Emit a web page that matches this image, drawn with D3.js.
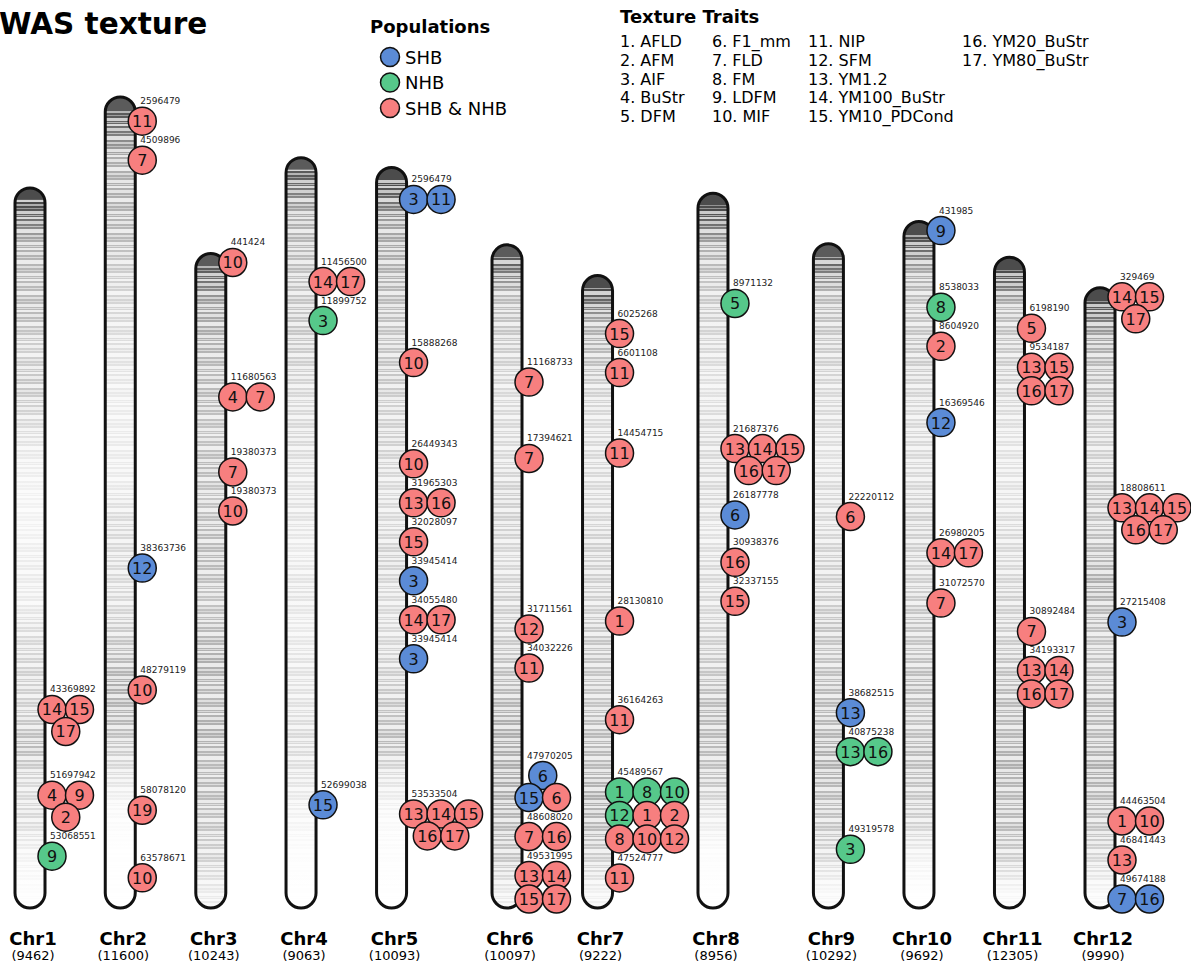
<!DOCTYPE html>
<html><head><meta charset="utf-8">
<script src="https://cdn.jsdelivr.net/npm/d3@7"></script>
<style>body{margin:0;background:#fff} svg{display:block;font-family:"DejaVu Sans",sans-serif}</style>
</head><body>
<svg id="c" width="1191" height="963"></svg>
<script>
// ---------------- DATA ----------------
const chromosomes = ["Chr1","Chr2","Chr3","Chr4","Chr5","Chr6","Chr7","Chr8","Chr9","Chr10","Chr11","Chr12"];
const chromLengths = [58640000,66040000,53300000,61100000,60300000,54000000,51500000,58200000,54100000,55900000,53000000,50500000];
const geneCounts = [9462,11600,10243,9063,10093,10097,9222,8956,10292,9692,12305,9990];

// gene density along each chromosome (top -> bottom), estimated
const densityChr1  = [0.85,0.5,0.45,0.45,0.35,0.4,0.3,0.2,0.15,0.15,0.2,0.2,0.3,0.35,0.35,0.45,0.3,0.3,0.15,0.05];
const densityChr2  = [0.8,0.5,0.5,0.45,0.35,0.3,0.25,0.2,0.2,0.2,0.3,0.3,0.3,0.4,0.5,0.45,0.3,0.1,0.03,0.02];
const densityChr3  = [0.8,0.55,0.5,0.45,0.45,0.4,0.45,0.4,0.45,0.45,0.4,0.45,0.5,0.45,0.5,0.45,0.45,0.4,0.35,0.2];
const densityChr4  = [0.8,0.5,0.45,0.4,0.4,0.35,0.3,0.3,0.25,0.25,0.2,0.25,0.2,0.25,0.25,0.3,0.25,0.15,0.05,0.02];
const densityChr5  = [0.85,0.55,0.5,0.45,0.4,0.4,0.35,0.35,0.3,0.3,0.35,0.3,0.3,0.35,0.4,0.45,0.25,0.1,0.05,0.02];
const densityChr6  = [0.8,0.45,0.4,0.35,0.3,0.3,0.3,0.35,0.35,0.3,0.35,0.35,0.4,0.45,0.5,0.5,0.5,0.45,0.4,0.2];
const densityChr7  = [0.85,0.5,0.45,0.35,0.3,0.3,0.3,0.3,0.35,0.35,0.35,0.4,0.4,0.4,0.45,0.45,0.5,0.45,0.35,0.15];
const densityChr8  = [0.85,0.5,0.4,0.35,0.3,0.25,0.3,0.3,0.3,0.25,0.3,0.3,0.35,0.4,0.45,0.45,0.4,0.2,0.05,0.02];
const densityChr9  = [0.8,0.45,0.4,0.35,0.3,0.3,0.25,0.3,0.3,0.35,0.35,0.4,0.4,0.45,0.45,0.5,0.45,0.4,0.3,0.1];
const densityChr10 = [0.85,0.5,0.4,0.4,0.35,0.3,0.3,0.3,0.35,0.35,0.35,0.4,0.4,0.45,0.4,0.45,0.4,0.35,0.15,0.03];
const densityChr11 = [0.85,0.45,0.4,0.35,0.3,0.25,0.25,0.25,0.3,0.3,0.35,0.35,0.4,0.45,0.45,0.5,0.45,0.45,0.35,0.1];
const densityChr12 = [0.85,0.55,0.45,0.4,0.35,0.35,0.4,0.4,0.45,0.5,0.45,0.4,0.4,0.45,0.45,0.5,0.45,0.4,0.3,0.1];
const chromDensity = [densityChr1,densityChr2,densityChr3,densityChr4,densityChr5,densityChr6,densityChr7,densityChr8,densityChr9,densityChr10,densityChr11,densityChr12];

// significant loci: chromosome, position (bp), traits (rows separated by "|"; S=SHB, N=NHB, B=SHB & NHB)
const markerChr = [1,1,1, 2,2,2,2,2,2, 3,3,3,3, 4,4,4, 5,5,5,5,5,5,5,5,5, 6,6,6,6,6,6,6, 7,7,7,7,7,7,7, 8,8,8,8,8, 9,9,9,9, 10,10,10,10,10,10, 11,11,11,11, 12,12,12,12,12,12];
const markerPos = [43369892,51697942,53068551,
  2596479,4509896,38363736,48279119,58078120,63578671,
  441424,11680563,19380373,19380373,
  11456500,11899752,52699038,
  2596479,15888268,26449343,31965303,32028097,33945414,34055480,33945414,53533504,
  11168733,17394621,31711561,34032226,47970205,48608020,49531995,
  6025268,6601108,14454715,28130810,36164263,45489567,47524777,
  8971132,21687376,26187778,30938376,32337155,
  22220112,38682515,40875238,49319578,
  431985,8538033,8604920,16369546,26980205,31072570,
  6198190,9534187,30892484,34193317,
  329469,18808611,27215408,44463504,46841443,49674188];
const markerTraits = ["14B,15B|17B","4B,9B|2B","9N",
  "11B","7B","12S","10B","19B","10B",
  "10B","4B,7B","7B","10B",
  "14B,17B","3N","15S",
  "3S,11S","10B","10B","13B,16B","15B","3S","14B,17B","3S","13B,14B,15B|16B,17B",
  "7B","7B","12B","11B","6S|15S,6B","7B,16B","13B,14B|15B,17B",
  "15B","11B","11B","1B","11B","1N,8N,10N|12N,1B,2B|8B,10B,12B","11B",
  "5N","13B,14B,15B|16B,17B","6S","16B","15B",
  "6B","13S","13N,16N","3N",
  "9S","8N","2B","12S","14B,17B","7B",
  "5B","13B,15B|16B,17B","7B","13B,14B|16B,17B",
  "14B,15B|17B","13B,14B,15B|16B,17B","3S","1B,10B","13B","7S,16S"];

const traitNames = ["AFLD","AFM","AIF","BuStr","DFM","F1_mm","FLD","FM","LDFM","MIF","NIP","SFM","YM1.2","YM100_BuStr","YM10_PDCond","YM20_BuStr","YM80_BuStr"];
const populations = ["SHB","NHB","SHB & NHB"];
const popCodes = ["S","N","B"];
const popColors = ["#5b8bd6","#56c88a","#f77f7f"];

// ---------------- LAYOUT ----------------
const W = 1191;
const chrTopMin = 97, chrBottom = 908, chrW = 30, R = 14, dx = 27.5, gap = 11;
const marginLeft = 15;
const color = d3.scaleOrdinal().domain(popCodes).range(popColors);
const yLen = d3.scaleLinear().domain([0, d3.max(chromLengths)]).range([0, chrBottom - chrTopMin]);
const greyRamp = d3.interpolateRgb("#ffffff", "#1a1a1a");
const grey = d => greyRamp(Math.pow(d, 1.5));

const svg = d3.select("#c");
const defs = svg.append("defs");

// stripe texture (light streaks over the density shading)
const stripe = defs.append("pattern").attr("id", "stripes").attr("patternUnits", "userSpaceOnUse")
  .attr("width", 40).attr("height", 31);
[[0,2,0.75],[4,3,0.65],[9,1,0.5],[12,4,0.75],[18,2,0.55],[22,1,0.4],[25,3,0.7],[29,1,0.5]].forEach(s =>
  stripe.append("rect").attr("x", 0).attr("y", s[0]).attr("width", 40).attr("height", s[1])
    .attr("fill", "#fff").attr("fill-opacity", s[2]));

svg.append("text").attr("x", -1).attr("y", 34).attr("font-size", 29.5)
  .attr("font-weight", "bold").attr("fill", "#000").text("WAS texture");

function dodge(groups, lo, hi) {
  let blocks = groups.map(g => ({items: [g]}));
  function layoutBlock(b) {
    let off = 0; b.offs = [];
    b.items.forEach(g => { b.offs.push(off + g.h / 2); off += g.h + gap; });
    b.height = off - gap;
    b.top = d3.mean(b.items, (g, k) => g.c - b.offs[k]);
    b.top = Math.max(lo, Math.min(hi - b.height, b.top));
  }
  blocks.forEach(layoutBlock);
  let changed = true;
  while (changed) {
    changed = false;
    for (let k = 1; k < blocks.length; k++) {
      const a = blocks[k - 1], b = blocks[k];
      if (b.top < a.top + a.height + gap - 1e-6) {
        a.items = a.items.concat(b.items);
        blocks.splice(k, 1); layoutBlock(a); changed = true; break;
      }
    }
  }
  blocks.forEach(b => b.items.forEach((g, k) => { g.yc = b.top + b.offs[k]; }));
}

const chrNodes = chromosomes.map((name, i) => {
  const len = chromLengths[i];
  const h = yLen(len);
  const top = chrBottom - h;
  const g = svg.append("g");

  const gid = "dens" + i;
  const grad = defs.append("linearGradient").attr("id", gid)
    .attr("x1", 0).attr("y1", 0).attr("x2", 0).attr("y2", 1);
  const dens = chromDensity[i];
  dens.forEach((d, k) => grad.append("stop")
    .attr("offset", (k + 0.5) / dens.length).attr("stop-color", grey(d)));

  const cid = "clip" + i;
  defs.append("clipPath").attr("id", cid).append("rect")
    .attr("x", 0).attr("y", top).attr("width", chrW).attr("height", h)
    .attr("rx", chrW / 2).attr("ry", chrW / 2);

  g.append("rect").attr("x", 0).attr("y", top).attr("width", chrW).attr("height", h)
    .attr("fill", `url(#${gid})`).attr("clip-path", `url(#${cid})`);
  g.append("rect").attr("x", 0).attr("y", top + 12).attr("width", chrW).attr("height", h - 12)
    .attr("fill", "url(#stripes)").attr("clip-path", `url(#${cid})`);
  g.append("rect").attr("x", 0).attr("y", top).attr("width", chrW).attr("height", h)
    .attr("rx", chrW / 2).attr("ry", chrW / 2)
    .attr("fill", "none").attr("stroke", "#111").attr("stroke-width", 3);

  const groups = [];
  markerChr.forEach((c, k) => {
    if (c !== i + 1) return;
    const rows = markerTraits[k].split("|").map(r => r.split(",").map(t => ({
      trait: t.slice(0, -1), pop: t.slice(-1)})));
    const aligned = rows.every(r => r.length === rows[0].length);
    const rowGap = aligned ? 23.5 : 22;
    const gh = (rows.length - 1) * rowGap + 2 * R;
    groups.push({pos: markerPos[k], rows, rowGap, h: gh, c: top + yLen(markerPos[k])});
  });
  dodge(groups, top - 5, chrBottom + 5);

  const x0 = chrW + 7;
  groups.forEach(gr => {
    const gTop = gr.yc - gr.h / 2;
    const widest = d3.max(gr.rows, r => r.length);
    let maxX = 0;
    gr.rows.forEach((row, ri) => {
      const start = (widest - row.length) * dx / 2;
      row.forEach((it, j) => {
        const cx = x0 + start + j * dx, cy = gTop + R + ri * gr.rowGap;
        maxX = Math.max(maxX, cx + R);
        g.append("circle").attr("cx", cx).attr("cy", cy).attr("r", R)
          .attr("fill", color(it.pop)).attr("stroke", "#111").attr("stroke-width", 1.5);
        g.append("text").attr("x", cx).attr("y", cy + 6).attr("text-anchor", "middle")
          .attr("font-size", 16).attr("fill", "#111").text(it.trait);
      });
    });
    gr.firstY = gTop + R;
    gr.lastY = gTop + R + (gr.rows.length - 1) * gr.rowGap;
    gr.bottom = gTop + gr.h; gr.top = gTop; gr.maxX = maxX;
  });
  groups.forEach((gr, k) => {
    const gapAbove = k === 0 ? Infinity : gr.top - groups[k - 1].bottom;
    const gapBelow = k === groups.length - 1 ? (chrBottom - 4 - gr.bottom) : groups[k + 1].top - gr.bottom;
    let lx = chrW + 5, ly;
    if (gapAbove >= 10) ly = gr.firstY - 20 + 3;
    else if (gapBelow >= 16) ly = gr.lastY + 21 + 3;
    else { lx = gr.maxX + 2; ly = gr.firstY - 9 + 3; }
    g.append("text").attr("x", lx).attr("y", ly).attr("font-size", 9)
      .attr("fill", "#222").text(gr.pos);
  });
  return {g, i};
});

// pack chromosomes horizontally
const extents = chrNodes.map(n => { const b = n.g.node().getBBox(); return b.x + b.width; });
const pad = (W - marginLeft - d3.sum(extents)) / (chromosomes.length - 1);
let xCursor = marginLeft;
const chrX = [];
chrNodes.forEach((n, i) => {
  chrX.push(xCursor);
  n.g.attr("transform", `translate(${xCursor},0)`);
  xCursor += extents[i] + pad;
});

// chromosome labels
chromosomes.forEach((name, i) => {
  const cx = chrX[i] + chrW / 2 + 3;
  svg.append("text").attr("x", cx).attr("y", 945).attr("text-anchor", "middle")
    .attr("font-size", 18).attr("font-weight", "bold").attr("fill", "#000").text(name);
  svg.append("text").attr("x", cx).attr("y", 960).attr("text-anchor", "middle")
    .attr("font-size", 13).attr("fill", "#000").text(`(${geneCounts[i]})`);
});

// populations legend
svg.append("text").attr("x", 370).attr("y", 33).attr("font-size", 18).attr("font-weight", "bold").text("Populations");
populations.forEach((p, k) => {
  const y = 57 + k * 25.5;
  svg.append("circle").attr("cx", 390).attr("cy", y).attr("r", 9.5)
    .attr("fill", popColors[k]).attr("stroke", "#111").attr("stroke-width", 1.5);
  svg.append("text").attr("x", 405).attr("y", y + 6.5).attr("font-size", 18).text(p);
});

// traits legend
svg.append("text").attr("x", 620).attr("y", 23).attr("font-size", 18).attr("font-weight", "bold").text("Texture Traits");
const colX = [620, 712, 808, 962];
traitNames.forEach((t, k) => {
  const col = Math.floor(k / 5), row = k % 5;
  svg.append("text").attr("x", colX[col]).attr("y", 47 + row * 18.75)
    .attr("font-size", 16).text(`${k + 1}. ${t}`);
});
</script>
</body></html>
